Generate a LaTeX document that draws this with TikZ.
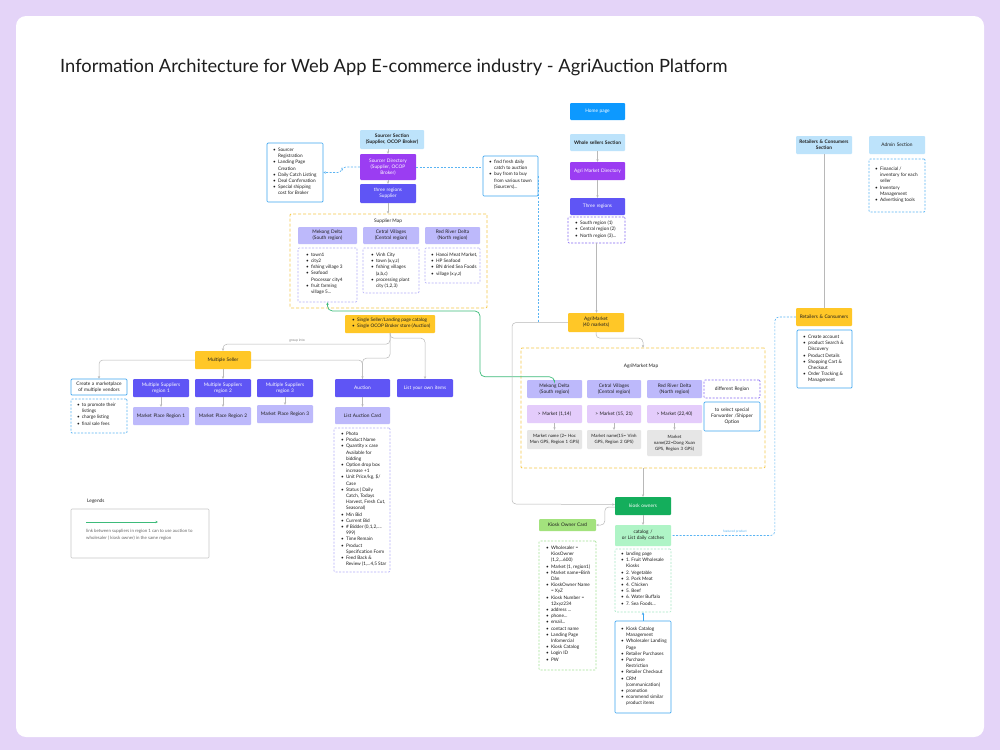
\documentclass[tikz,border=0pt]{standalone}
\usepackage{fontspec}
\setmainfont{Lato}
\usetikzlibrary{arrows.meta}
\definecolor{bgc}{HTML}{E4D4F8}
\definecolor{txt}{HTML}{1E1E1E}
\definecolor{secblue}{HTML}{BDE3FB}
\definecolor{homeblue}{HTML}{0D99FF}
\definecolor{purp}{HTML}{9B3DF2}
\definecolor{viol}{HTML}{5F55F5}
\definecolor{lav}{HTML}{BDB9FB}
\definecolor{mkt}{HTML}{E4CCFB}
\definecolor{goldc}{HTML}{FFC727}
\definecolor{kgreen}{HTML}{14AE5C}
\definecolor{lime}{HTML}{A3E27D}
\definecolor{mint}{HTML}{AFF4C6}
\definecolor{graym}{HTML}{E6E6E6}
\definecolor{bord}{HTML}{3DA5F0}
\definecolor{dashbc}{HTML}{5AB4F3}
\definecolor{yelld}{HTML}{F6C94A}
\definecolor{lavd}{HTML}{B3ADF8}
\definecolor{violdc}{HTML}{8566F2}
\definecolor{greendc}{HTML}{A2E196}
\definecolor{mintdc}{HTML}{A6E8C4}
\definecolor{connc}{HTML}{B8B8B8}
\definecolor{glink}{HTML}{3DBB7A}
\definecolor{leggray}{HTML}{C8C8C8}
\newcommand{\BF}{\fontsize{4.8}{6}\selectfont}
\newcommand{\LF}{\fontsize{4.7}{6.2}\selectfont}
\newcommand{\ITM}{\par\hangindent=5pt\hangafter=1\noindent\hbox to 5pt{\textbullet\hss}}
\newcommand{\BX}[7]{%
 \pgfmathsetmacro{\bxw}{#5-#3}\pgfmathsetmacro{\bxh}{#6-#4}%
 \pgfmathsetmacro{\bxt}{#5-#3-2}%
 \pgfmathsetmacro{\bxcx}{(#3+#5)/2}\pgfmathsetmacro{\bxcy}{(#4+#6)/2}%
 \node[#2, minimum width=\bxw pt, minimum height=\bxh pt, text width=\bxt pt] (#1) at (\bxcx,\bxcy) {#7};}
\newcommand{\LB}[9]{%
 \pgfmathsetmacro{\bxw}{#5-#3-#7-1}\pgfmathsetmacro{\bxh}{#6-#4-2*#8}%
 \pgfmathsetmacro{\bxcx}{(#3+#5)/2}\pgfmathsetmacro{\bxcy}{(#4+#6)/2}%
 \node[#2, inner xsep=0pt, inner ysep=#8pt] (#1) at (\bxcx,\bxcy) {\hspace*{#7pt}\parbox[c][\bxh pt][t]{\bxw pt}{\raggedright\LF #9}\hspace*{1pt}};}
\tikzset{
 bxbase/.style={inner sep=0pt, align=center, font=\BF, text=txt, rounded corners=1pt},
 sSec/.style={bxbase, fill=secblue, font=\BF\bfseries},
 sSecN/.style={bxbase, fill=secblue},
 sHome/.style={bxbase, fill=homeblue, text=white},
 sPurp/.style={bxbase, fill=purp, text=white},
 sViol/.style={bxbase, fill=viol, text=white},
 sLav/.style={bxbase, fill=lav},
 sGold/.style={bxbase, fill=goldc},
 sGreen/.style={bxbase, fill=kgreen, text=white},
 sLime/.style={bxbase, fill=lime},
 sMint/.style={bxbase, fill=mint},
 sMkt/.style={bxbase, fill=mkt},
 sGray/.style={bxbase, fill=graym, font=\fontsize{4.4}{6}\selectfont},
 sBord/.style={bxbase, draw=bord, line width=0.7pt, fill=white},
 sViolD/.style={bxbase, draw=violdc, line width=0.6pt, dash pattern=on 2pt off 1.5pt},
 sYd/.style={draw=yelld, line width=0.8pt, dash pattern=on 3pt off 2pt, inner sep=0pt, rounded corners=1pt},
 sLeg/.style={draw=leggray, line width=0.6pt, inner sep=0pt, rounded corners=1pt},
 lbase/.style={inner sep=0pt, text=txt, rounded corners=1pt},
 lBord/.style={lbase, draw=bord, line width=0.7pt},
 lBlueD/.style={lbase, draw=dashbc, line width=0.7pt, dash pattern=on 2pt off 1.5pt},
 lLavD/.style={lbase, draw=lavd, line width=0.6pt, dash pattern=on 2pt off 1.5pt},
 lViolD/.style={lbase, draw=violdc, line width=0.6pt, dash pattern=on 2pt off 1.5pt},
 lGreenD/.style={lbase, draw=greendc, line width=0.6pt, dash pattern=on 2pt off 1.5pt},
 lMintD/.style={lbase, draw=mintdc, line width=0.6pt, dash pattern=on 2pt off 1.5pt},
 lGold/.style={lbase, fill=goldc},
 conn/.style={draw=connc, line width=0.5pt, rounded corners=4pt},
 tip/.style={-{Stealth[length=2.6pt,width=2.4pt]}},
 dashbl/.style={draw=dashbc, line width=0.6pt, dash pattern=on 2pt off 1.5pt, rounded corners=4pt},
 greenl/.style={draw=glink, line width=0.7pt, rounded corners=5pt},
 lbl/.style={inner sep=0pt, font=\BF, text=txt},
}
\begin{document}
\begin{tikzpicture}[x=1pt,y=-1pt]
\useasboundingbox (0,0) rectangle (1000,750);
\fill[bgc] (0,0) rectangle (1000,750);
\fill[white, rounded corners=10pt] (16,16) rectangle (984,737);
\node[anchor=base west, inner sep=0pt, font=\fontsize{18.3}{21}\selectfont, text=txt] (title) at (60,72) {Information Architecture for Web App E-commerce industry - AgriAuction Platform};

% ---------- Sourcer column
\BX{sourcesec}{sSec}{360}{130}{424}{149}{Sourcer Section\\(Supplier, OCOP Broker)}
\BX{sourcedir}{sPurp}{360}{154}{416}{180}{Sourcer Directory\\(Supplier, OCOP\\Broker)}
\BX{threereg}{sViol}{360}{184}{416}{203}{three regions\\Supplier}
\LB{sourcelist}{lBord}{267}{143}{323}{202}{6}{5}{\ITM Sourcer\newline Registration \ITM Landing Page\newline Creation \ITM Daily Catch Listing \ITM Deal Confirmation \ITM Special shipping\newline cost for Broker}
\LB{sourcebuy}{lBord}{483}{156}{538}{196}{6}{4}{\ITM find fresh daily\newline catch to auction \ITM buy from to buy\newline from various town\newline (Sourcers)...}

\BX{supmap}{sYd}{290}{214}{487}{308}{}
\node[lbl] (supmaplbl) at (388,221) {Supplier Map};
\BX{smek}{sLav}{298}{227}{357}{244}{Mekong Delta\\(South region)}
\BX{scen}{sLav}{363}{227}{419}{244}{Cetral Villages\\(Central region)}
\BX{sred}{sLav}{425}{227}{480}{244}{Red River Delta\\(North region)}
\LB{smekl}{lLavD}{298}{248}{357}{302}{8}{5}{\ITM town1 \ITM city2 \ITM fishing village 3 \ITM Seafood\newline Processor city4 \ITM fruit farming\newline village 5...}
\LB{scenl}{lLavD}{363}{248}{419}{293}{8}{5}{\ITM Vinh City \ITM town (x,y,z) \ITM fishing villages\newline (a,b,c) \ITM processing plant\newline city (1,2,3)}
\LB{sredl}{lLavD}{425}{248}{480}{283}{6}{5}{\ITM Hanoi Meat Market, \ITM HP Seafood \ITM BN dried Sea Foods \ITM village (x,y,z)}

\draw[conn,tip] (sourcedir.north |- sourcesec.south) -- (sourcedir.north);
\draw[conn,tip] (sourcedir.south) -- (threereg.north);
\draw[conn,tip] (threereg.south) -- (threereg.south |- supmap.north);
\draw[dashbl,tip] (sourcedir.west) -- ++(-18,0) |- (sourcelist.east);
\draw[dashbl] (sourcedir.east) -- (sourcebuy.west |- sourcedir.east);

% ---------- Seller area
\LB{ssbox}{lGold}{345}{315}{435}{333}{7}{3}{\ITM Single Seller/Landing page catalog \ITM Single OCOP Broker store (Auction)}
\BX{mseller}{sGold}{195}{351}{251}{369}{Multiple Seller}
\BX{create}{sBord}{71}{379}{127}{395}{Create a marketplace\\of multiple vendors}
\LB{promo}{lBlueD}{71}{399}{127}{433}{6}{4}{\ITM to promote their\newline listings \ITM charge listing \ITM final sale fees}
\BX{ms1}{sViol}{133}{379}{189}{397}{Multiple Suppliers\\region 1}
\BX{ms2}{sViol}{195}{379}{251}{397}{Multiple Suppliers\\region 2}
\BX{ms3}{sViol}{257}{379}{313}{397}{Multiple Suppliers\\region 3}
\BX{mp1}{sLav}{133}{407}{189}{425}{Market Place Region 1}
\BX{mp2}{sLav}{195}{407}{251}{425}{Market Place Region 2}
\BX{mp3}{sLav}{257}{405}{313}{423}{Market Place Region 3}
\BX{auction}{sViol}{335}{379}{390}{397}{Auction}
\BX{ownitems}{sViol}{397}{379}{453}{397}{List your own items}
\BX{auccard}{sLav}{335}{407}{390}{424}{List Auction Card}
\LB{auclist}{lLavD}{334}{428}{390}{572}{7}{4}{\ITM Photo \ITM Product Name \ITM Quantity x case\newline Available for\newline bidding \ITM Option drop box\newline increase +1 \ITM Unit Price/kg, \$/\newline Case \ITM Status ( Daily\newline Catch, Todays\newline Harvest, Fresh Cut,\newline Seasonal) \ITM Min Bid \ITM Current Bid \ITM \# Bidder (0,1,2,....\newline 999) \ITM Time Remain \ITM Product\newline Specification Form \ITM Feed Back \&\newline Review (1,...4,5 Star}

\draw[conn,tip] (ssbox.south) -- ++(0,11) -| (mseller.north);
\node[lbl, font=\fontsize{3.4}{4}\selectfont, text=gray] (grouplbl) at (297,340.5) {group into};
\draw[conn,tip] (ssbox.south) -- ++(0,25) -| (auction.north);
\draw[conn] (mseller.east) -| (auction.north);
\draw[conn,tip] (ssbox.south) -- ++(0,5) -| (ownitems.north);
\draw[conn,tip] (mseller.west) -| (create.north);
\draw[conn,tip] (mseller.south) -- (ms2.north);
\draw[conn,tip] (ms1.south) -- (mp1.north);
\draw[conn,tip] (ms2.south) -- (mp2.north);
\draw[conn,tip] (ms3.south) -- (mp3.north);
\draw[conn,tip] (auction.south) -- (auccard.north);

% ---------- Legend
\node[lbl, anchor=base west, font=\fontsize{4.8}{6}\selectfont] (legtitle) at (87,502) {Legends};
\BX{legbox}{sLeg}{71}{509}{209}{558}{}
\coordinate (lga) at (86,522);
\coordinate (lgb) at (158,522);
\draw[greenl,tip] (lga) -- (lgb);
\node[lbl, anchor=north west, align=left, font=\fontsize{4.4}{7}\selectfont, text=black!60] (legtext) at (86,529) {link between suppliers in region 1 can to use auction to\\wholesaler ( kiosk owner) in the same region};

% ---------- Wholesalers column
\BX{home}{sHome}{570}{103}{625}{120}{Home page}
\BX{wss}{sSec}{570}{134}{625}{151}{Whole sellers Section}
\BX{agridir}{sPurp}{570}{162}{625}{180}{Agri Market Directory}
\BX{three2}{sViol}{570}{198}{625}{215}{Three regions}
\LB{three2l}{lViolD}{568}{217}{625}{243}{7}{4}{\ITM South region (1) \ITM Central region (2) \ITM North region (3)...}
\BX{agrimkt}{sGold}{568}{313}{624}{332}{AgriMarket\\(40 markets)}
\draw[dashbl] (sourcebuy.east) -- (sourcebuy.east |- agrimkt.west);

\BX{agmap}{sYd}{521}{348}{765}{468}{}
\node[lbl] (agmaplbl) at (641,366) {AgriMarket Map};
\BX{amek}{sLav}{527}{380}{582}{398}{Mekong Delta\\(South region)}
\BX{acen}{sLav}{587}{380}{641}{398}{Cetral Villages\\(Central region)}
\BX{ared}{sLav}{647}{380}{702}{398}{Red River Delta\\(North region)}
\BX{adiff}{sViolD}{704}{380}{760}{398}{different Region}
\BX{am1}{sMkt}{527}{405}{582}{423}{> Market (1,14)}
\BX{am2}{sMkt}{587}{405}{641}{423}{> Market (15, 21)}
\BX{am3}{sMkt}{647}{405}{702}{423}{> Market (22,40)}
\BX{afwd}{sBord}{704}{402}{760}{431}{to select special\\Forwarder /Shipper\\Option}
\BX{an1}{sGray}{527}{430}{582}{449}{Market name (2= Hoc\\Mon GPS, Region 1 GPS)}
\BX{an2}{sGray}{587}{430}{641}{449}{Market name(15= Vinh\\GPS, Region 2 GPS)}
\BX{an3}{sGray}{647}{430}{702}{456}{Market\\name(22=Dong Xuan\\GPS, Region 3 GPS)}

\draw[greenl,tip] (amek.north) -- ++(0,-3) -| (480,311) -| (smekl.south);

\BX{kiosk}{sGreen}{615}{497}{671}{515}{kiosk owners}
\BX{kcard}{sLime}{539}{519}{596}{531}{Kiosk Owner Card}
\LB{kcardl}{lGreenD}{539}{541}{596}{670}{7}{5}{\ITM Wholesaler =\newline KiosOwner\newline (1,2,...600) \ITM Market (1, region1) \ITM Market name=Binh\newline Dân \ITM KioskOwner Name\newline = XyZ \ITM Kiosk Number =\newline 12xyz234 \ITM address ... \ITM phone... \ITM email... \ITM contact name \ITM Landing Page\newline Infomercial \ITM Kiosk Catalog \ITM Login ID \ITM PW}
\BX{catalog}{sMint}{615}{525}{671}{546}{catalog /\\or List daily catches}
\LB{catl}{lMintD}{615}{549}{671}{612}{6}{3}{\ITM landing page \ITM 1. Fruit Wholesale\newline Kiosks \ITM 2. Vegetable \ITM 3. Pork Meat \ITM 4. Chicken \ITM 5. Beef \ITM 6. Water Buffalo \ITM 7. Sea Foods...}
\LB{kmgmt}{lBord}{615}{621}{671}{713}{6}{6}{\ITM Kiosk Catalog\newline Management \ITM Wholesaler Landing\newline Page \ITM Retailer Purchases \ITM Purchase\newline Restriction \ITM Retailer Checkout \ITM CRM\newline (communication) \ITM promotion \ITM ecommend similar\newline product items}

\draw[conn,tip] (wss.south) -- (agridir.north);
\draw[conn,tip] (agridir.south) -- (three2.north);
\draw[conn,tip] (three2l.south) -- (three2l.south |- agrimkt.north);
\draw[conn,tip] (agrimkt.south) -- ++(0,6) -| (agmap.north);
\draw[conn,tip] (agmap.south) -- (kiosk.north);
\draw[conn,tip] (am1.south) -- (an1.north);
\draw[conn,tip] (am2.south) -- (an2.north);
\draw[conn,tip] (am3.south) -- (an3.north);
\draw[conn,tip] (agrimkt.west) -| (512,504) -- ([yshift=1.5pt]kiosk.west);
\draw[conn,tip] ([yshift=-1pt]kiosk.west) -- ++(-10,0) |- (kcard.east);
\draw[conn,tip] (kiosk.south) -- (catalog.north);
\draw[draw=bord, line width=0.6pt, tip] (kmgmt.north) -- (catl.south);

% ---------- Retailers / Admin
\BX{rcsec}{sSec}{796}{136}{852}{154}{Retailers \& Consumers\\Section}
\BX{admin}{sSecN}{869}{136}{925}{154}{Admin Section}
\LB{adminl}{lBlueD}{869}{159}{925}{212}{6}{8}{\ITM Financial /\newline inventory for each\newline seller \ITM Inventory\newline Management \ITM Advertising tools}
\BX{retail}{sGold}{796}{308}{852}{326}{Retailers \& Consumers}
\LB{retaill}{lBord}{797}{330}{852}{388}{6}{5}{\ITM Create account \ITM product Search \&\newline Discovery \ITM Product Details \ITM Shopping Cart \&\newline Checkout \ITM Order Tracking \&\newline Management}
\draw[conn] (rcsec.south) -- (retail.north);
\draw[dashbl] (retail.west) -- ++(-21,0) |- (catalog.east);
\node[lbl, font=\fontsize{3.2}{4}\selectfont, text=dashbc] (synclbl) at (735,532) {featured product};
\end{tikzpicture}
\end{document}
